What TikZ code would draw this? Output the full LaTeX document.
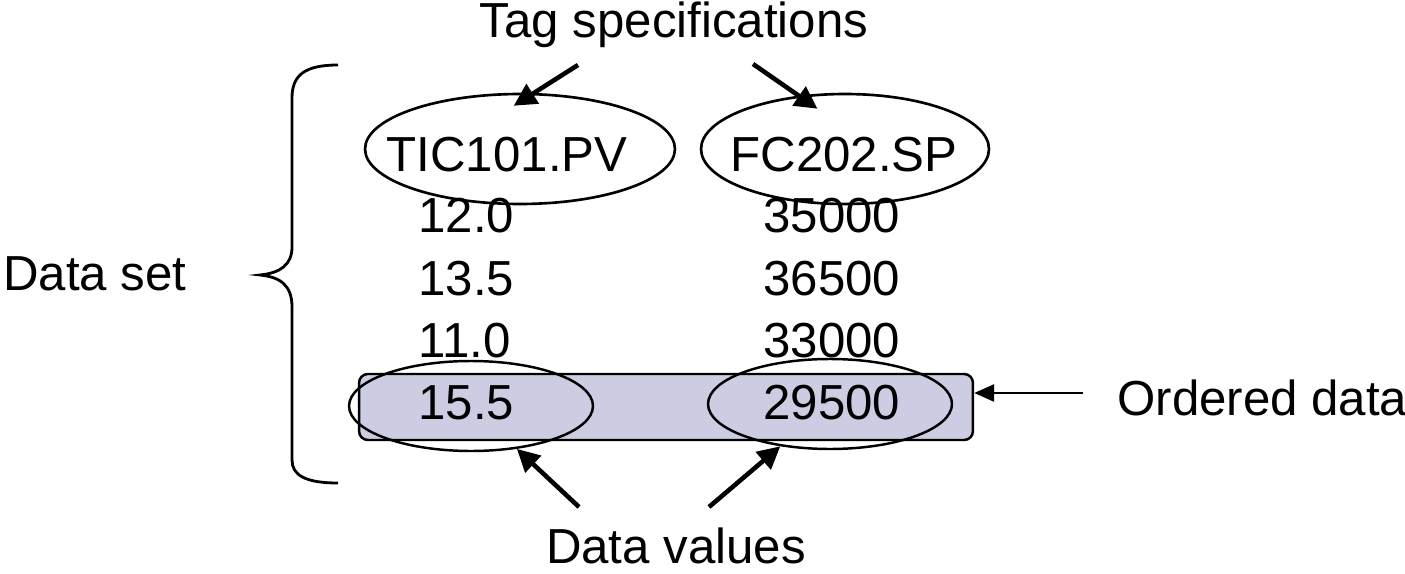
\documentclass[tikz,border=0pt]{standalone}
\usepackage{fontspec}
\setmainfont{Liberation Sans}
\usepackage{tikz}
\usetikzlibrary{arrows.meta}
\usetikzlibrary{shapes.geometric}
\definecolor{ordfill}{RGB}{204,204,226}
\tikzset{lbl/.style={inner sep=0pt,font=\fontsize{28}{34}\selectfont}}
\tikzset{tagell/.style={ellipse,draw=black!100,line width=1.5pt,inner sep=0pt,minimum height=2.2cm}}
\tikzset{valell/.style={ellipse,draw=black!100,line width=1.4pt,inner sep=0pt,minimum width=4.88cm,minimum height=1.8cm}}
\tikzset{ordbox/.style={rectangle,rounded corners=5pt,draw=black!100,line width=1.4pt,fill=ordfill,minimum width=12.28cm,minimum height=1.32cm,inner sep=0pt}}
\tikzset{ptr/.style={line width=2.6pt,-{Triangle[length=0.45cm,width=0.45cm]}}}
\tikzset{ptrthin/.style={line width=1.5pt,-{Triangle[length=0.4cm,width=0.34cm]}}}

\begin{document}
\begin{tikzpicture}[x=0.02cm,y=-0.02cm]
\useasboundingbox (0,0) rectangle (1405,574);

\node[ordbox] (ordbox) at (666,407) {};

\node[lbl,anchor=base] (tag) at (674,38) {Tag specifications};
\node[lbl,anchor=base] (dval) at (676,563) {Data values};
\node[lbl,anchor=base west] (dset) at (3,290) {Data set};
\node[lbl,anchor=base west] (ordlbl) at (1117,415) {Ordered data};

\node[tagell,minimum width=6.2cm] (ticell) at (520,149) {};
\node[tagell,minimum width=5.76cm] (fcell) at (845,149) {};
\node[lbl,anchor=base] (tic) at (507,172) {TIC101.PV};
\node[lbl,anchor=base] (fc) at (844,172) {FC202.SP};

\foreach \r / \a / \b in {1/12.0/35000,2/13.5/36500,3/11.0/33000,4/15.5/29500}
{
	\node[lbl,anchor=base west] (a\r) at (418,171+62*\r) {\a};
	\node[lbl,anchor=base west] (b\r) at (763,171+62*\r) {\b};
}

\node[valell] (lowA) at (471,406) {};
\node[valell] (lowB) at (830,404) {};

% brace
\draw[line width=1.6pt] (338,65) .. controls (305,65) and (292,75) .. (292,98) -- (292,247)
	.. controls (292,265) and (280,273) .. (260,275) .. controls (280,277) and (292,285) .. (292,307)
	-- (292,460) .. controls (292,475) and (305,483) .. (338,483);

\coordinate (tagA) at (578,65);
\coordinate (tagB) at (753,64);
\coordinate (dvA) at (579,507);
\coordinate (dvB) at (709,507);
\coordinate (ordA) at (1083,393);

\draw[ptr,shorten >=-0.48cm] (tagA) -- (ticell.76);
\draw[ptr,shorten >=-0.46cm] (tagB) -- (fcell.131);
\draw[ptr] (dvA) -- (lowA);
\draw[ptr] (dvB) -- (lowB);
\draw[ptrthin] (ordA) -- (ordA -| ordbox.east);

\end{tikzpicture}
\end{document}
